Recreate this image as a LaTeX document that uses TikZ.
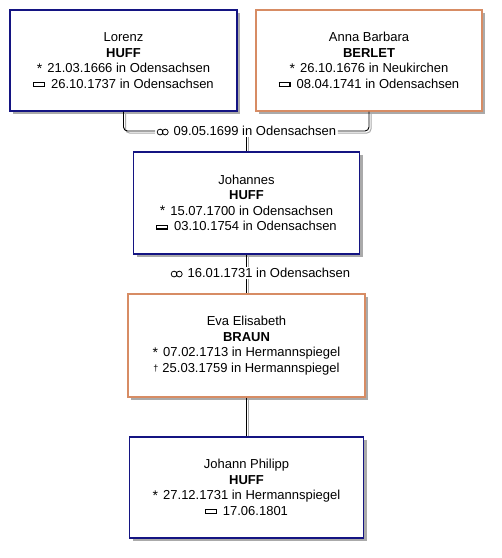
\documentclass[tikz,border=0pt]{standalone}
\usepackage{fontspec}
\setmainfont{Liberation Sans}
\usetikzlibrary{shadows}
\definecolor{maleb}{RGB}{20,20,130}
\definecolor{femaleb}{RGB}{215,140,100}
\definecolor{shadowc}{RGB}{170,170,170}
\newcommand\bornsym{\raisebox{-0.5pt}{\fontsize{14}{14}\selectfont *}\hspace{5pt}}
\newcommand\burysym{\raisebox{2.6pt}{\setlength\fboxsep{0pt}\setlength\fboxrule{1.2pt}\fbox{\rule{0pt}{2.4pt}\hspace{9.5pt}}}\hspace{6pt}}
\newcommand\deathsym{\raisebox{1pt}{\small †}\hspace{4pt}}
\newcommand\marrsym{\tikz[baseline=0pt]{\draw[black, line width=0.8pt] (3pt,3.6pt) circle[radius=2.9pt] (8.2pt,3.6pt) circle[radius=2.9pt];}\hspace{5pt}}
\tikzset{
  txt/.style={font=\fontsize{13}{15.5}\selectfont},
  person/.style={txt, draw, fill=white, line width=1.1pt, align=center, inner sep=0pt,
    drop shadow={shadow xshift=3pt, shadow yshift=-3pt, fill=shadowc, opacity=1}},
  male/.style={person, draw=maleb},
  female/.style={person, draw=femaleb},
  conn/.style={black, line width=0.9pt},
  connshadow/.style={shadowc, line width=1pt},
  marr/.style={txt, inner sep=1.5pt}
}
\begin{document}
\begin{tikzpicture}[x=1pt,y=-1pt]
\fill[white] (0,0) rectangle (502,558);
\useasboundingbox (0,0) rectangle (502,558);

\node[male, minimum width=227pt, minimum height=101pt] (lorenz) at (123.5,60.5)
  {Lorenz\\\textbf{HUFF}\\\bornsym 21.03.1666 in Odensachsen\\\burysym 26.10.1737 in Odensachsen};
\node[female, minimum width=226pt, minimum height=101pt] (anna) at (369,60.5)
  {Anna Barbara\\\textbf{BERLET}\\\bornsym 26.10.1676 in Neukirchen\\\burysym 08.04.1741 in Odensachsen};
\node[male, minimum width=226pt, minimum height=102pt] (johannes) at (246.5,203)
  {Johannes\\\textbf{HUFF}\\\bornsym 15.07.1700 in Odensachsen\\\burysym 03.10.1754 in Odensachsen};
\node[female, minimum width=237pt, minimum height=103pt] (eva) at (246.5,345.5)
  {Eva Elisabeth\\\textbf{BRAUN}\\\bornsym 07.02.1713 in Hermannspiegel\\\deathsym 25.03.1759 in Hermannspiegel};
\node[male, minimum width=234pt, minimum height=101pt] (jp) at (246.5,487.5)
  {Johann Philipp\\\textbf{HUFF}\\\bornsym 27.12.1731 in Hermannspiegel\\\burysym 17.06.1801};

\node[marr] (m1) at (246.5,131) {\marrsym 09.05.1699 in Odensachsen};

% connector shadows
\draw[connshadow, rounded corners=4pt] ([shift={(2,2)}]lorenz.south) |- ([shift={(0,2)}]m1.west);
\draw[connshadow, rounded corners=4pt] ([shift={(2,2)}]anna.south) |- ([shift={(0,2)}]m1.east);
\draw[connshadow] ([shift={(2,0)}]m1.south) -- ([shift={(2,0)}]m1.south |- johannes.north);
\draw[connshadow] ([shift={(2,2)}]johannes.south) -- ([shift={(2,0)}]johannes.south |- eva.north);
\draw[connshadow] ([shift={(2,2)}]eva.south) -- ([shift={(2,0)}]eva.south |- jp.north);

% connectors
\draw[conn, rounded corners=4pt] (lorenz.south) |- (m1.west);
\draw[conn, rounded corners=4pt] (anna.south) |- (m1.east);
\draw[conn] (m1.south) -- (m1.south |- johannes.north);
\draw[conn] (johannes.south) -- (johannes.south |- eva.north);
\draw[conn] (eva.south) -- (eva.south |- jp.north);

\node[marr, fill=white] (m2) at (260.5,273) {\marrsym 16.01.1731 in Odensachsen};
\end{tikzpicture}
\end{document}
